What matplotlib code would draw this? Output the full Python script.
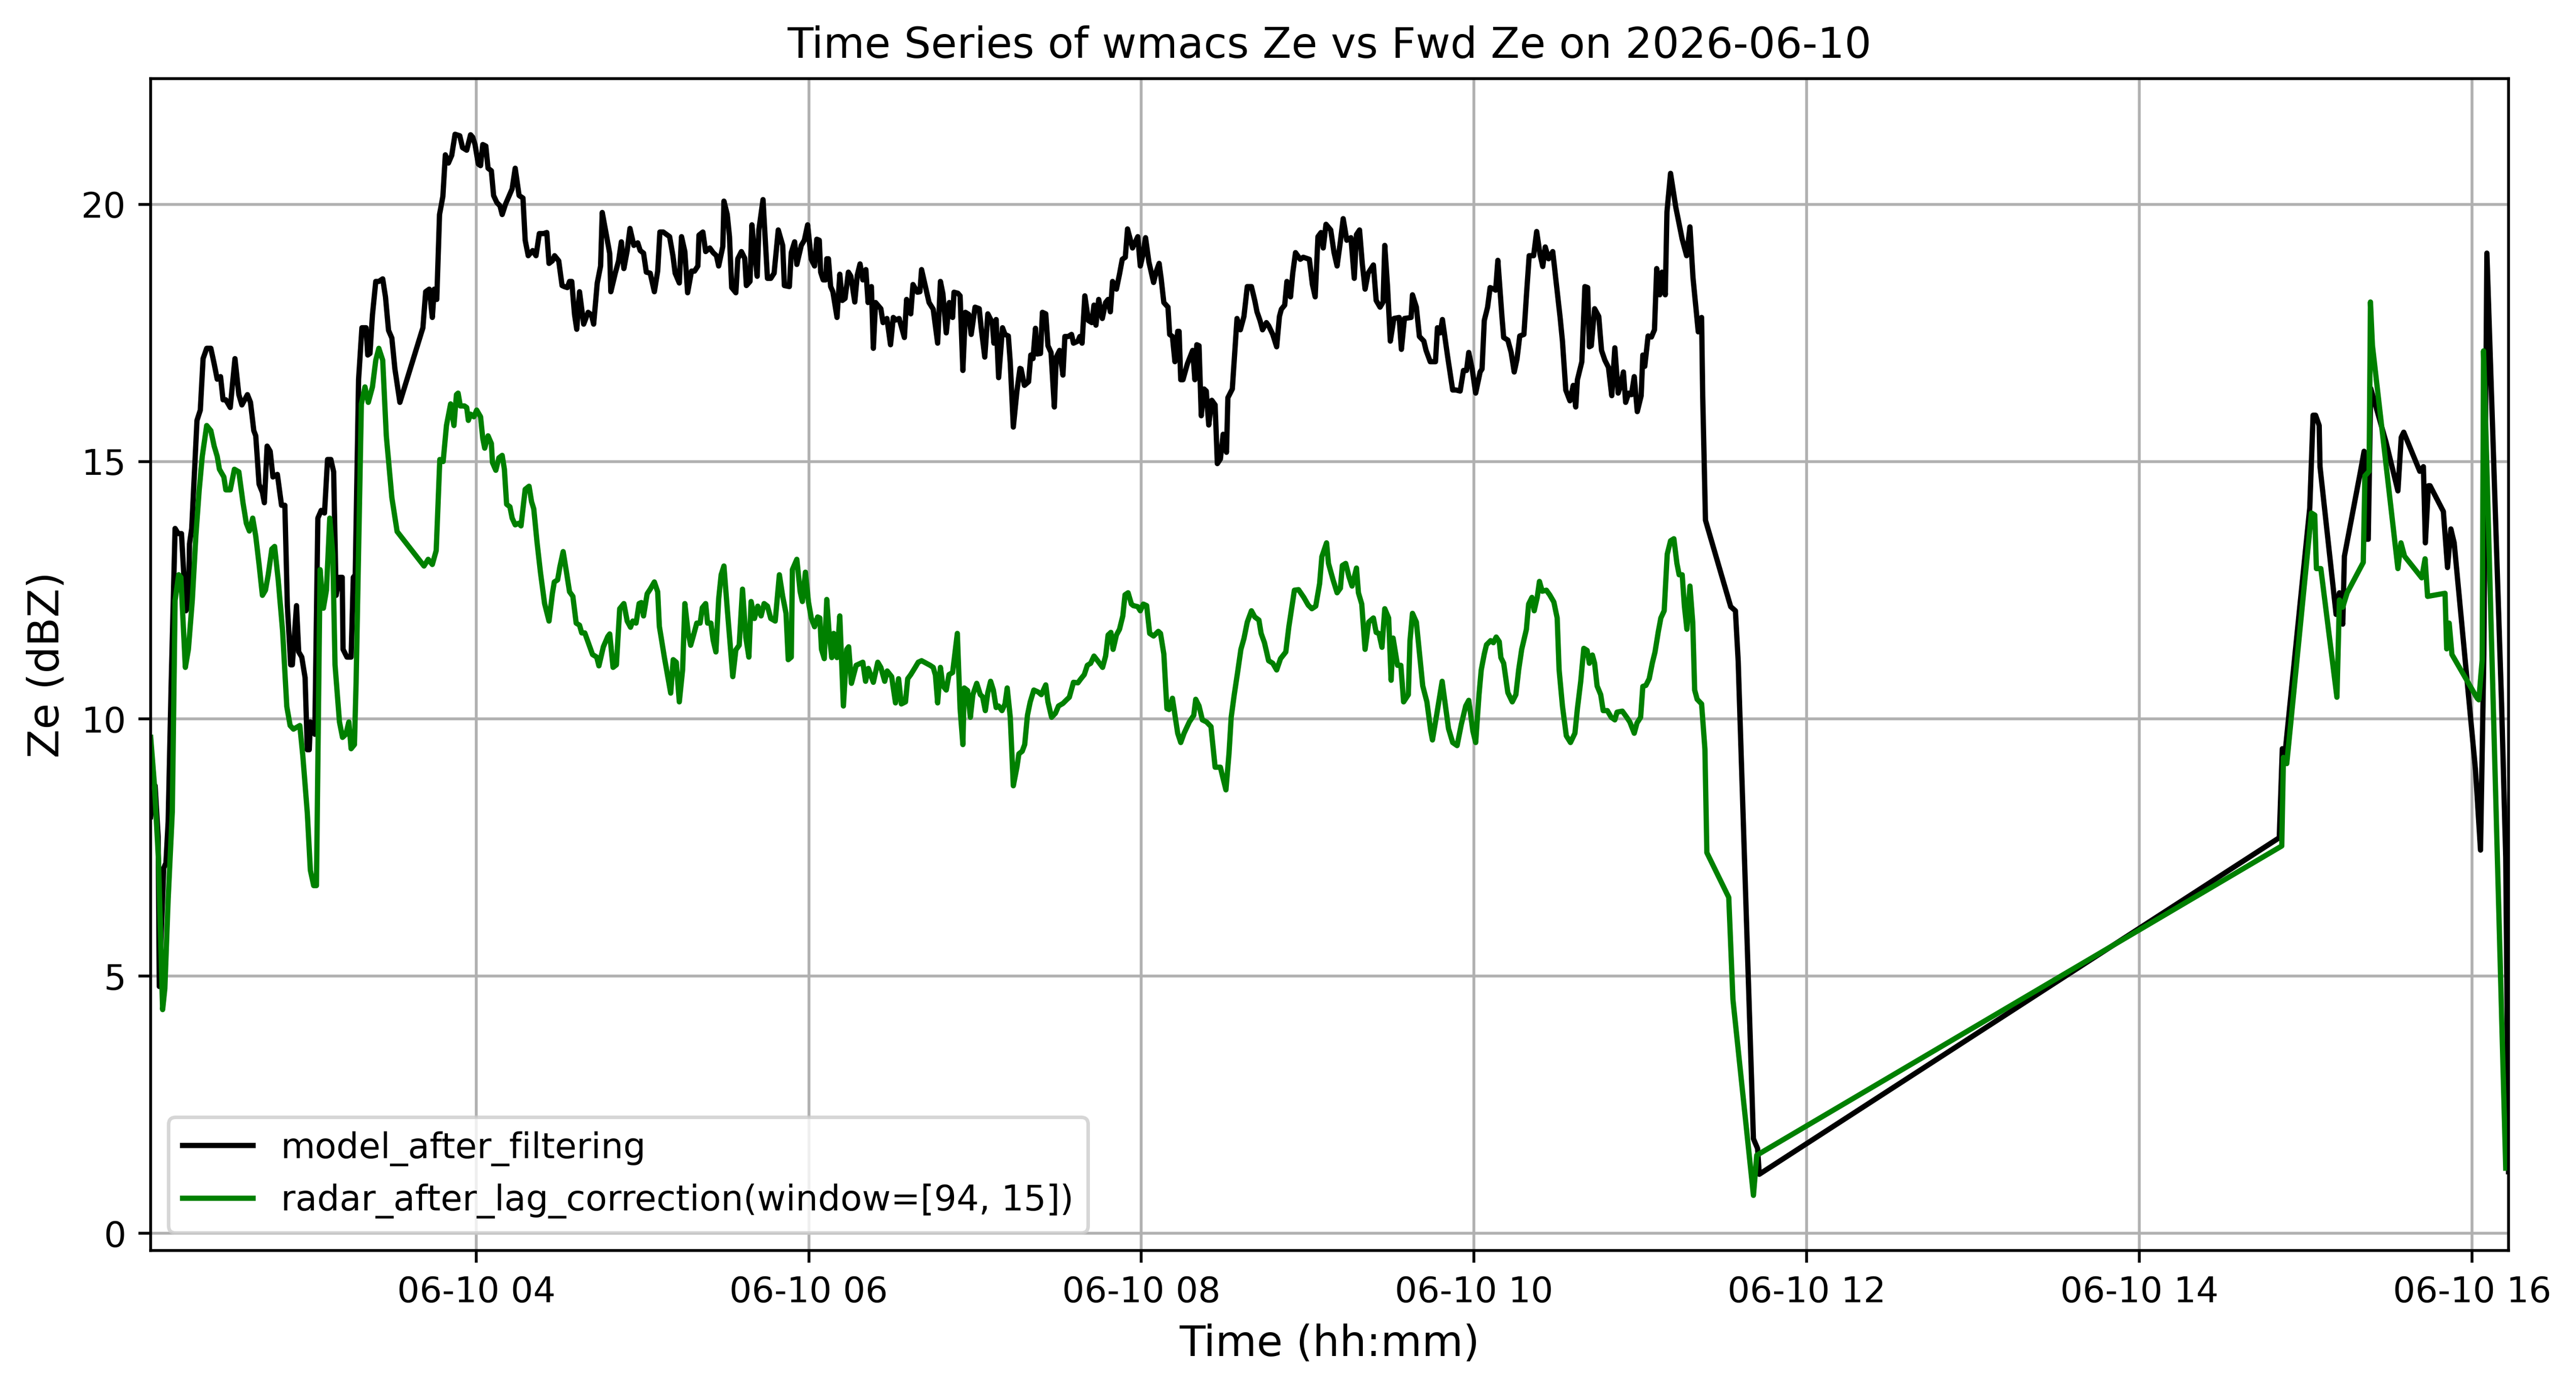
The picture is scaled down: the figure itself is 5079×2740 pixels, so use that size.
import numpy as np
import pandas as pd
import matplotlib
matplotlib.use("Agg")
import matplotlib.pyplot as plt
import matplotlib.dates as mdates

# --- Data ---
# time = minutes after 2026-06-10 02:00, value = Ze [dBZ]
DAY_START = "2026-06-10 02:00"

# model_after_filtering (black), split in time blocks
black_min_a = [2.6, 4.2, 5.3, 5.7, 7.3, 8.1, 8.9, 10.0, 11.4, 12.5,
               13.7, 15.3, 16.2, 16.6, 17.4, 19.3, 20.5, 21.5, 22.8, 24.3,
               25.5, 26.6, 27.8, 28.7, 29.7, 31.3, 33.0, 34.4, 35.5, 37.5,
               38.6, 39.8, 40.5, 41.7, 42.9, 43.6, 44.6, 45.7, 46.7, 48.3,
               49.8, 51.0, 51.9, 53.1, 53.7, 55.2, 56.0, 57.1, 58.3, 59.1,
               59.8, 60.2, 61.8, 62.9, 64.1, 65.3, 66.4, 67.6, 68.6, 69.5,
               70.7, 71.7, 72.0, 73.4, 74.9, 75.7, 76.4, 77.6, 78.8, 80.3,
               80.9, 81.7, 82.6, 83.8, 84.9, 86.3, 87.3, 88.4, 89.6, 90.7,
               92.5, 100.8, 101.8, 103.1, 104.2, 104.9, 105.8, 106.8, 108.0, 108.9,
               110.0, 111.2, 112.4, 114.1, 115.1, 116.6]
black_ze_a = [8.1, 8.7, 7.7, 4.8, 7.1, 7.2, 8.0, 10.7, 13.7, 13.6,
              13.6, 12.1, 12.2, 13.4, 13.7, 15.8, 16.0, 17.0, 17.2, 17.2,
              16.9, 16.6, 16.65, 16.2, 16.2, 16.05, 17.0, 16.3, 16.1, 16.3,
              16.15, 15.6, 15.5, 14.56, 14.4, 14.2, 15.3, 15.2, 14.7, 14.75,
              14.15, 14.15, 12.2, 11.05, 11.05, 12.2, 11.3, 11.2, 10.8, 9.4,
              9.4, 9.94, 9.7, 13.9, 14.05, 14.0, 15.04, 15.04, 14.8, 12.4,
              12.75, 12.75, 11.35, 11.2, 11.2, 12.75, 12.8, 16.6, 17.6, 17.6,
              17.07, 17.1, 17.85, 18.5, 18.5, 18.55, 18.2, 17.55, 17.4, 16.8,
              16.15, 17.6, 18.3, 18.35, 17.8, 18.35, 18.15, 19.8, 20.15, 20.96,
              20.8, 20.95, 21.36, 21.33, 21.1, 21.05]

black_min_b = [118.0, 118.8, 119.6, 120.8, 121.6, 122.4, 123.5, 124.3, 125.5, 126.3,
               127.5, 128.6, 129.4, 130.6, 132.2, 133.0, 134.1, 135.5, 136.9, 137.7,
               138.8, 140.4, 141.6, 142.8, 144.3, 145.5, 146.3, 147.5, 148.3, 149.8,
               151.0, 151.8, 152.9, 153.7, 154.5, 155.5, 156.3, 157.3, 158.8, 160.4,
               161.6, 162.4, 163.7, 164.9, 165.5, 167.1, 168.2, 168.6, 170.2, 171.4,
               172.4, 173.3, 174.5, 175.5, 176.9, 178.3, 179.2, 180.4, 181.4, 182.8,
               184.3, 185.5, 186.3, 187.5, 189.8, 191.0, 191.8, 193.3, 194.1, 195.3,
               196.3, 197.7, 198.8, 200.0, 200.4, 201.8, 202.8, 204.3, 205.5, 206.7,
               207.5, 209.0, 209.4, 210.6, 211.4, 212.2, 213.7, 214.4, 215.7, 216.9,
               217.5, 218.8, 219.5, 220.2, 221.4, 222.0, 223.5, 225.1, 226.3, 227.5,
               229.0, 230.6, 231.2, 233.0, 233.7, 234.9, 235.7, 237.3, 238.4, 239.6]
black_ze_b = [21.35, 21.3, 21.16, 20.78, 20.75, 21.16, 21.13, 20.7, 20.65, 20.17,
              20.03, 19.97, 19.8, 20.0, 20.2, 20.3, 20.7, 20.17, 20.12, 19.3,
              19.0, 19.1, 19.0, 19.43, 19.43, 19.45, 18.85, 18.9, 19.0, 18.9,
              18.42, 18.4, 18.38, 18.5, 18.5, 17.86, 17.57, 18.3, 17.67, 17.9,
              17.85, 17.67, 18.47, 18.8, 19.84, 19.37, 19.04, 18.3, 18.66, 18.9,
              19.27, 18.75, 19.1, 19.53, 19.2, 19.25, 19.1, 19.05, 18.68, 18.66,
              18.3, 18.7, 19.46, 19.46, 19.37, 19.0, 18.66, 18.47, 19.37, 19.08,
              18.28, 18.7, 18.7, 18.8, 19.4, 19.46, 19.08, 19.15, 19.06, 19.0,
              18.8, 19.18, 20.06, 19.8, 19.37, 18.38, 18.28, 18.94, 19.08, 18.95,
              18.42, 18.5, 19.6, 19.18, 18.6, 19.5, 20.09, 18.56, 18.56, 18.66,
              19.5, 19.2, 18.42, 18.4, 19.06, 19.27, 18.83, 19.2, 19.3, 19.6]

black_min_c = [240.9, 242.1, 242.9, 243.8, 244.3, 245.2, 246.1, 246.5, 247.1, 247.9,
               248.7, 250.2, 251.2, 252.1, 253.1, 254.3, 255.2, 256.6, 257.5, 258.5,
               259.5, 260.6, 261.4, 262.6, 263.3, 264.1, 266.0, 266.8, 268.2, 269.5,
               270.5, 271.4, 272.6, 274.5, 275.3, 276.8, 277.6, 279.2, 280.1, 280.7,
               283.4, 284.9, 286.5, 287.5, 288.4, 289.6, 290.7, 291.9, 292.4, 293.8,
               294.6, 295.6, 296.5, 297.7, 298.6, 300.0, 301.5, 302.2, 303.5, 304.6,
               306.2, 306.8, 307.6, 308.5, 309.9, 310.8, 312.0, 312.7, 313.8, 315.1,
               316.2, 316.6, 317.8, 319.3, 320.1, 320.9, 321.8, 322.4, 323.6, 324.3,
               325.5, 326.3, 327.4, 328.6, 329.3, 330.5, 331.7, 332.4, 333.6, 334.8,
               335.5, 337.1, 337.8, 338.6, 339.6, 340.9, 342.1, 342.9, 343.6, 344.6,
               345.9, 347.1, 348.0, 348.8, 349.6, 351.0, 352.1, 353.1, 354.2, 355.0,
               356.8, 358.7, 359.6]
black_ze_c = [18.93, 18.8, 19.32, 19.3, 18.68, 18.53, 18.53, 18.94, 18.94, 18.4,
              18.3, 17.8, 18.64, 18.13, 18.17, 18.68, 18.6, 18.1, 18.62, 18.84,
              18.53, 18.73, 18.09, 18.4, 17.2, 18.09, 17.97, 17.7, 17.78, 17.27,
              17.8, 17.75, 17.78, 17.41, 18.15, 17.87, 18.44, 18.29, 18.3, 18.73,
              18.09, 17.96, 17.3, 18.5, 18.26, 17.5, 18.09, 17.8, 18.29, 18.27,
              18.22, 16.77, 17.9, 17.86, 17.47, 18.0, 17.97, 17.6, 17.03, 17.87,
              17.7, 17.3, 17.76, 16.63, 17.6, 17.47, 17.44, 16.92, 15.67, 16.37,
              16.81, 16.8, 16.48, 16.55, 17.07, 17.0, 17.59, 17.09, 17.1, 17.9,
              17.87, 17.25, 17.12, 16.06, 17.03, 17.16, 16.68, 17.43, 17.43, 17.47,
              17.3, 17.34, 17.43, 17.3, 18.22, 17.74, 17.7, 18.04, 17.65, 18.15,
              17.78, 18.09, 18.15, 17.91, 18.5, 18.35, 18.64, 18.93, 18.97, 19.52,
              19.15, 19.37, 18.8]

black_min_d = [360.5, 361.5, 362.7, 364.4, 365.4, 366.4, 367.1, 368.1, 369.6, 370.2,
               371.2, 372.1, 373.1, 373.6, 374.2, 375.0, 376.6, 378.5, 379.3, 380.0,
               380.8, 381.6, 382.6, 383.4, 384.3, 385.4, 386.6, 387.4, 388.5, 389.5,
               390.7, 391.2, 392.8, 394.5, 395.7, 397.0, 398.2, 399.7, 400.9, 401.7,
               402.8, 403.7, 405.1, 405.9, 407.4, 408.8, 409.8, 410.5, 411.7, 412.5,
               413.8, 414.6, 415.6, 417.3, 418.4, 420.6, 421.7, 422.7, 423.7, 424.8,
               425.6, 426.6, 428.3, 429.5, 430.6, 431.8, 432.8, 434.1, 435.6, 436.8,
               437.6, 438.7, 439.7, 440.7, 441.8, 443.7, 444.7, 446.1, 447.2, 447.8,
               448.8, 449.8, 451.1, 453.0, 453.8, 454.9, 457.3, 457.8, 459.2, 460.3,
               461.9, 462.7, 464.2, 466.1, 466.8, 467.8, 468.6, 470.4, 472.3, 473.5,
               475.0, 476.2, 477.3, 478.1, 479.3]
black_ze_d = [19.0, 19.35, 18.88, 18.48, 18.7, 18.85, 18.57, 18.09, 18.0, 17.47,
              17.43, 16.94, 17.53, 17.53, 16.59, 16.59, 16.9, 17.16, 16.59, 17.27,
              17.25, 15.89, 16.41, 16.37, 15.71, 16.19, 16.1, 14.96, 15.05, 15.53,
              15.18, 16.24, 16.41, 17.78, 17.56, 17.82, 18.4, 18.4, 18.13, 17.91,
              17.74, 17.56, 17.7, 17.64, 17.47, 17.23, 17.82, 17.96, 18.04, 18.5,
              18.2, 18.66, 19.06, 18.93, 18.97, 18.93, 18.44, 18.2, 19.37, 19.45,
              19.15, 19.61, 19.5, 19.06, 18.8, 19.28, 19.72, 19.3, 19.35, 18.56,
              19.41, 19.5, 18.84, 18.35, 18.66, 18.82, 18.13, 18.0, 18.1, 19.2,
              18.4, 17.34, 17.78, 17.8, 17.18, 17.78, 17.8, 18.24, 18.0, 17.43,
              17.34, 17.16, 16.94, 16.94, 17.6, 17.5, 17.76, 17.07, 16.39, 16.39,
              16.37, 16.77, 16.77, 17.12, 16.81]

black_min_e = [480.6, 482.2, 482.9, 483.7, 484.9, 485.8, 487.2, 487.8, 488.6, 490.1,
               490.7, 492.2, 493.4, 494.5, 495.5, 496.5, 498.0, 498.9, 499.9, 501.5,
               502.6, 503.8, 504.8, 505.7, 506.9, 508.4, 510.0, 511.1, 511.9, 513.1,
               514.6, 515.8, 516.7, 517.3, 518.9, 520.0, 521.0, 521.6, 522.3, 523.5,
               525.0, 526.0, 527.2, 528.5, 529.7, 530.8, 532.0, 532.8, 533.9, 534.7,
               535.8, 536.8, 537.8, 538.9, 540.3, 540.9, 541.6, 542.8, 544.0, 545.1,
               545.9, 547.0, 547.8, 549.0, 549.6, 550.9, 552.8, 555.1, 556.7, 557.9,
               559.0, 560.9, 562.1, 562.5, 563.5, 572.6, 574.3, 575.3, 580.8, 582.3,
               582.9]
black_ze_e = [16.33, 16.74, 16.8, 17.74, 18.0, 18.38, 18.35, 18.33, 18.91, 17.8,
              17.41, 17.36, 17.12, 16.74, 16.99, 17.44, 17.47, 18.22, 19.0, 19.0,
              19.47, 19.03, 18.79, 19.17, 18.94, 19.08, 18.31, 17.78, 17.34, 16.39,
              16.18, 16.48, 16.06, 16.59, 16.94, 18.4, 18.38, 17.23, 17.25, 17.97,
              17.82, 17.16, 16.97, 16.83, 16.28, 17.21, 16.33, 16.46, 16.74, 16.15,
              16.33, 16.3, 16.65, 15.97, 16.28, 17.07, 16.85, 17.44, 17.42, 17.56,
              18.75, 18.24, 18.68, 18.24, 19.85, 20.6, 19.94, 19.32, 19.0, 19.56,
              18.57, 17.52, 17.8, 16.28, 13.86, 12.18, 12.1, 11.12, 1.84, 1.65,
              1.15]

black_min_f = [770.5, 771.6, 772.6, 781.5, 782.7, 783.6, 784.9, 785.2, 791.0, 792.2,
               793.4, 794.0, 799.8, 801.1, 802.0, 802.6, 803.5, 809.0, 813.3, 814.5,
               815.4, 821.2, 822.5, 823.2, 824.3, 824.9, 829.7, 831.2, 832.4, 833.6,
               841.3, 843.1, 844.3, 845.4, 850.7, 852.2, 853.2]
black_ze_f = [7.69, 9.42, 9.34, 14.1, 15.9, 15.9, 15.7, 14.9, 12.03, 12.45,
              11.84, 13.16, 14.81, 15.2, 13.49, 13.49, 16.42, 15.38, 14.43, 15.47,
              15.57, 14.81, 14.9, 13.42, 14.53, 14.53, 14.03, 12.94, 13.69, 13.42,
              9.0, 7.45, 11.25, 19.05, 10.3, 7.31, 1.2]

# radar_after_lag_correction (green)
green_min_a = [2.6, 3.9, 5.4, 6.9, 7.7, 8.9, 10.4, 11.4, 12.7, 13.5,
               15.1, 16.2, 17.6, 18.9, 20.1, 21.2, 22.8, 24.3, 25.5, 26.6,
               27.4, 29.0, 29.7, 31.3, 32.8, 34.4, 35.9, 37.1, 38.2, 39.4,
               40.5, 41.7, 42.9, 44.0, 45.0, 46.3, 47.3, 48.6, 50.2, 51.7,
               52.9, 54.1, 56.4, 57.5, 59.1, 60.2, 61.4, 62.4, 63.7, 64.9,
               66.0, 67.2, 68.3, 69.1, 70.7, 71.8, 73.0, 74.1, 74.9, 76.1,
               76.7, 78.6, 79.9, 81.1, 82.6, 83.8, 84.9, 86.3, 87.6, 89.6,
               91.5, 101.2, 102.7, 104.2, 105.6, 106.9, 108.1, 109.3, 110.8, 112.0,
               112.9, 113.5, 114.3, 115.8, 116.6, 117.2]
green_ze_a = [9.64, 8.75, 7.28, 4.35, 4.76, 6.5, 8.2, 12.3, 12.8, 12.75,
              11.0, 11.35, 12.3, 13.56, 14.45, 15.1, 15.7, 15.6, 15.3, 15.1,
              14.85, 14.7, 14.45, 14.45, 14.85, 14.8, 14.2, 13.8, 13.65, 13.9,
              13.55, 13.0, 12.4, 12.5, 12.8, 13.3, 13.35, 12.7, 11.7, 10.24,
              9.87, 9.8, 9.87, 9.27, 8.17, 7.06, 6.76, 6.76, 12.9, 12.15,
              12.5, 13.9, 13.2, 11.05, 9.94, 9.64, 9.7, 9.94, 9.42, 9.5,
              10.7, 16.12, 16.45, 16.15, 16.45, 16.97, 17.2, 16.97, 15.5, 14.3,
              13.64, 12.97, 13.1, 13.0, 13.27, 15.04, 15.0, 15.7, 16.12, 15.7,
              16.3, 16.33, 16.08, 16.08, 16.05, 15.8]

green_min_b = [118.0, 119.2, 120.2, 121.6, 122.4, 123.1, 124.3, 125.5, 125.9, 127.1,
               128.2, 129.4, 130.2, 131.0, 132.2, 133.0, 134.1, 135.3, 136.2, 137.7,
               139.1, 140.0, 140.8, 142.0, 143.2, 144.7, 146.3, 147.5, 148.2, 149.4,
               150.2, 151.4, 152.6, 153.7, 154.9, 156.1, 157.3, 158.1, 159.2, 160.8,
               162.0, 163.5, 164.3, 165.9, 167.5, 168.2, 169.4, 170.6, 171.8, 173.3,
               174.5, 175.7, 176.5, 177.7, 178.8, 179.6, 180.4, 181.7, 182.8, 184.3,
               185.5, 186.1, 187.9, 190.2, 191.1, 192.2, 193.3, 194.5, 195.3, 196.5,
               197.4, 198.4, 199.6, 200.8, 201.6, 202.8, 203.5, 204.7, 205.5, 206.5,
               207.5, 208.4, 209.4, 210.6, 211.8, 212.6, 213.7, 214.9, 216.1, 217.3,
               218.4, 219.2, 220.4, 221.6, 222.8, 223.9, 225.1, 226.3, 227.9, 229.4,
               230.6, 231.8, 232.6, 233.7, 234.1, 235.7, 236.9, 237.7, 238.8]
green_ze_b = [15.92, 15.87, 16.0, 15.87, 15.45, 15.26, 15.5, 15.35, 14.98, 14.83,
              15.07, 15.12, 14.85, 14.17, 14.12, 13.9, 13.77, 13.8, 13.75, 14.46,
              14.52, 14.22, 14.08, 13.42, 12.85, 12.24, 11.9, 12.43, 12.66, 12.7,
              12.95, 13.25, 12.85, 12.47, 12.38, 11.86, 11.82, 11.67, 11.67, 11.43,
              11.25, 11.2, 11.03, 11.4, 11.6, 11.65, 11.0, 11.05, 12.14, 12.24,
              11.9, 11.78, 11.9, 11.86, 12.24, 12.26, 12.0, 12.43, 12.52, 12.66,
              12.47, 11.8, 11.2, 10.5, 11.15, 11.1, 10.33, 10.96, 12.24, 11.67,
              11.43, 11.62, 11.86, 11.86, 12.16, 12.24, 11.86, 11.86, 11.53, 11.3,
              12.33, 12.8, 12.97, 12.14, 11.34, 10.82, 11.34, 11.43, 12.52, 11.58,
              11.2, 12.28, 11.95, 12.19, 12.0, 12.24, 12.19, 11.95, 11.9, 12.8,
              12.38, 12.05, 11.15, 11.2, 12.9, 13.1, 12.47, 12.28, 12.85]

green_min_c = [239.9, 240.9, 242.1, 243.2, 244.0, 244.6, 245.6, 246.5, 247.3, 248.3,
               249.0, 250.2, 251.2, 252.5, 253.7, 254.4, 255.4, 257.1, 259.5, 260.5,
               261.5, 263.3, 264.9, 266.0, 267.4, 268.3, 269.9, 271.3, 272.4, 273.4,
               274.9, 275.7, 276.8, 278.4, 279.5, 280.7, 283.8, 284.9, 285.7, 286.5,
               287.5, 288.4, 289.6, 290.6, 291.9, 292.7, 293.6, 294.6, 295.6, 296.1,
               297.3, 298.3, 299.2, 300.6, 301.9, 302.7, 303.7, 304.6, 305.6, 306.6,
               307.6, 308.5, 309.7, 310.8, 311.6, 312.7, 313.8, 315.1, 315.8, 317.0,
               317.9, 318.9, 319.9, 321.2, 322.8, 323.9, 325.5, 326.3, 327.6, 329.0,
               330.1, 331.7, 333.2, 334.0, 335.5, 337.1, 338.2, 339.4, 340.5, 341.7,
               342.9, 344.2, 346.0, 347.1, 348.0, 349.0, 349.8, 351.0, 352.1, 353.3,
               354.1, 355.2, 356.4, 357.1, 358.7, 359.6]
green_ze_c = [12.27, 11.96, 11.79, 11.98, 11.96, 11.35, 11.17, 12.32, 11.7, 11.19,
              11.66, 11.19, 12.0, 10.25, 11.35, 11.4, 10.69, 11.04, 11.1, 10.73,
              10.98, 10.71, 11.1, 11.0, 10.73, 10.93, 10.82, 10.31, 10.78, 10.29,
              10.33, 10.78, 10.86, 11.0, 11.1, 11.13, 11.04, 11.0, 10.85, 10.31,
              11.0, 10.64, 10.56, 10.86, 10.9, 11.26, 11.66, 10.2, 9.5, 10.6,
              10.55, 10.03, 10.47, 10.69, 10.47, 10.43, 10.16, 10.51, 10.73, 10.56,
              10.22, 10.25, 10.16, 10.29, 10.6, 10.03, 8.7, 9.06, 9.32, 9.37,
              9.5, 10.07, 10.33, 10.56, 10.52, 10.47, 10.66, 10.33, 10.03, 10.11,
              10.25, 10.3, 10.38, 10.42, 10.71, 10.7, 10.78, 10.86, 11.04, 11.08,
              11.22, 11.13, 11.0, 11.22, 11.63, 11.68, 11.35, 11.63, 11.74, 12.0,
              12.41, 12.45, 12.23, 12.2, 12.18, 12.1]

green_min_d = [360.7, 361.9, 363.0, 364.4, 366.1, 366.9, 368.1, 369.2, 370.0, 371.2,
               373.1, 374.2, 375.4, 377.3, 378.9, 379.6, 380.8, 382.0, 383.5, 385.1,
               386.6, 388.5, 389.3, 390.5, 391.6, 392.4, 393.5, 394.7, 395.9, 397.0,
               398.2, 399.7, 400.9, 402.4, 403.2, 404.4, 405.9, 407.4, 408.8, 410.2,
               412.1, 413.2, 415.2, 416.7, 418.6, 420.2, 421.5, 422.9, 424.3, 425.1,
               426.8, 427.5, 429.1, 430.6, 431.8, 432.5, 433.7, 434.9, 436.0, 437.6,
               438.3, 439.5, 440.7, 442.0, 443.7, 444.7, 445.7, 446.8, 447.8, 449.2,
               450.1, 450.8, 452.4, 453.6, 454.6, 456.3, 456.9, 457.8, 459.2, 461.5,
               463.0, 464.4, 465.0, 466.5, 468.5, 470.8, 472.3, 473.9, 475.4, 477.0,
               478.1, 479.6]
green_ze_d = [12.23, 12.2, 11.66, 11.61, 11.7, 11.66, 11.26, 10.2, 10.18, 10.4,
              9.72, 9.54, 9.72, 9.94, 10.07, 10.38, 10.25, 9.98, 9.94, 9.85,
              9.06, 9.06, 8.88, 8.62, 9.32, 10.03, 10.47, 10.9, 11.35, 11.56,
              11.88, 12.1, 11.98, 11.92, 11.66, 11.48, 11.13, 11.08, 10.95, 11.17,
              11.3, 11.79, 12.5, 12.51, 12.36, 12.21, 12.14, 12.19, 12.63, 13.15,
              13.42, 13.02, 12.71, 12.45, 12.54, 12.98, 13.02, 12.76, 12.58, 12.93,
              12.45, 12.23, 11.35, 11.88, 11.96, 11.68, 11.66, 11.39, 12.14, 11.96,
              10.75, 11.57, 11.04, 11.04, 10.33, 10.47, 11.52, 12.05, 11.88, 10.64,
              10.33, 9.76, 9.59, 10.07, 10.73, 9.81, 9.54, 9.48, 9.89, 10.25,
              10.36, 9.76]

green_min_e = [480.6, 481.8, 482.6, 483.7, 484.5, 486.0, 487.0, 488.0, 489.1, 489.7,
               490.7, 492.2, 493.8, 495.1, 496.1, 497.2, 498.9, 499.7, 500.9, 501.7,
               502.8, 503.6, 504.6, 506.1, 507.3, 508.8, 510.0, 510.7, 511.9, 513.3,
               514.8, 516.4, 517.3, 518.5, 519.6, 520.8, 521.6, 522.7, 523.5, 524.4,
               525.7, 526.6, 528.1, 529.5, 530.8, 531.6, 533.5, 535.1, 536.2, 537.8,
               538.8, 540.1, 540.9, 542.0, 543.2, 544.3, 545.3, 546.5, 547.4, 548.6,
               549.7, 550.9, 552.1, 553.2, 554.0, 555.1, 555.9, 556.8, 557.9, 558.9,
               559.6, 560.5, 562.1, 563.3, 564.0, 571.9, 573.4, 580.8, 582.0]
green_ze_e = [9.54, 10.47, 10.95, 11.26, 11.44, 11.52, 11.48, 11.59, 11.5, 11.19,
              11.08, 10.51, 10.33, 10.47, 10.95, 11.35, 11.74, 12.23, 12.36, 12.1,
              12.36, 12.67, 12.48, 12.5, 12.41, 12.27, 11.96, 10.95, 10.25, 9.67,
              9.54, 9.72, 10.2, 10.73, 11.37, 11.33, 11.08, 11.24, 11.08, 10.64,
              10.47, 10.16, 10.16, 10.03, 9.98, 10.13, 10.15, 10.03, 9.94, 9.72,
              9.92, 10.03, 10.63, 10.65, 10.78, 11.08, 11.3, 11.7, 11.96, 12.1,
              13.2, 13.46, 13.5, 13.02, 12.8, 12.8, 12.19, 11.74, 12.58, 11.88,
              10.56, 10.38, 10.29, 9.41, 7.4, 6.53, 4.55, 0.74, 1.52]

green_min_f = [771.4, 772.0, 773.2, 782.1, 783.3, 783.9, 785.5, 791.3, 792.2, 793.4,
               795.0, 800.8, 801.4, 802.9, 803.4, 804.1, 813.3, 814.4, 815.7, 821.9,
               823.1, 824.0, 830.3, 830.9, 831.8, 832.8, 841.9, 842.5, 843.7, 844.2,
               844.9, 852.2]
green_ze_f = [7.53, 9.25, 9.13, 14.0, 13.96, 12.92, 12.92, 10.42, 12.31, 12.17,
              12.45, 13.04, 14.72, 14.81, 18.1, 17.26, 12.92, 13.42, 13.16, 12.74,
              13.11, 12.38, 12.44, 11.36, 11.86, 11.25, 10.4, 10.37, 11.14, 17.15,
              15.86, 1.27]

LABEL_MODEL = "model_after_filtering"
LABEL_RADAR = "radar_after_lag_correction(window=[94, 15])"


def to_times(*blocks):
    minutes = np.concatenate([np.asarray(b, dtype=float) for b in blocks])
    return pd.Timestamp(DAY_START) + pd.to_timedelta(minutes, unit="min")


black_t = to_times(black_min_a, black_min_b, black_min_c, black_min_d, black_min_e, black_min_f)
black_v = np.concatenate([black_ze_a, black_ze_b, black_ze_c, black_ze_d, black_ze_e, black_ze_f])
green_t = to_times(green_min_a, green_min_b, green_min_c, green_min_d, green_min_e, green_min_f)
green_v = np.concatenate([green_ze_a, green_ze_b, green_ze_c, green_ze_d, green_ze_e, green_ze_f])

# --- Plot ---
DPI = 500
fig, ax = plt.subplots(figsize=(5079 / DPI, 2740 / DPI), dpi=DPI)
fig.subplots_adjust(left=0.0585, right=0.9738, bottom=0.1004, top=0.9434)

ax.plot(black_t, black_v, color="black", lw=1.5, label=LABEL_MODEL)
ax.plot(green_t, green_v, color="green", lw=1.5, label=LABEL_RADAR)

ax.set_xlim(min(black_t[0], green_t[0]), max(black_t[-1], green_t[-1]))
ax.set_ylim(-0.33, 22.44)
# ticks on even hours: 04, 06, ... 16
ax.xaxis.set_major_locator(mdates.HourLocator(byhour=range(0, 24, 2)))
ax.xaxis.set_major_formatter(mdates.DateFormatter("%m-%d %H"))

ax.set_title("Time Series of wmacs Ze vs Fwd Ze on 2026-06-10", fontsize=12)
ax.set_xlabel("Time (hh:mm)", fontsize=12)
ax.set_ylabel("Ze (dBZ)", fontsize=12)
ax.grid(True)
ax.legend(loc="lower left", fontsize=10)

fig.savefig("out.png", dpi=DPI)
